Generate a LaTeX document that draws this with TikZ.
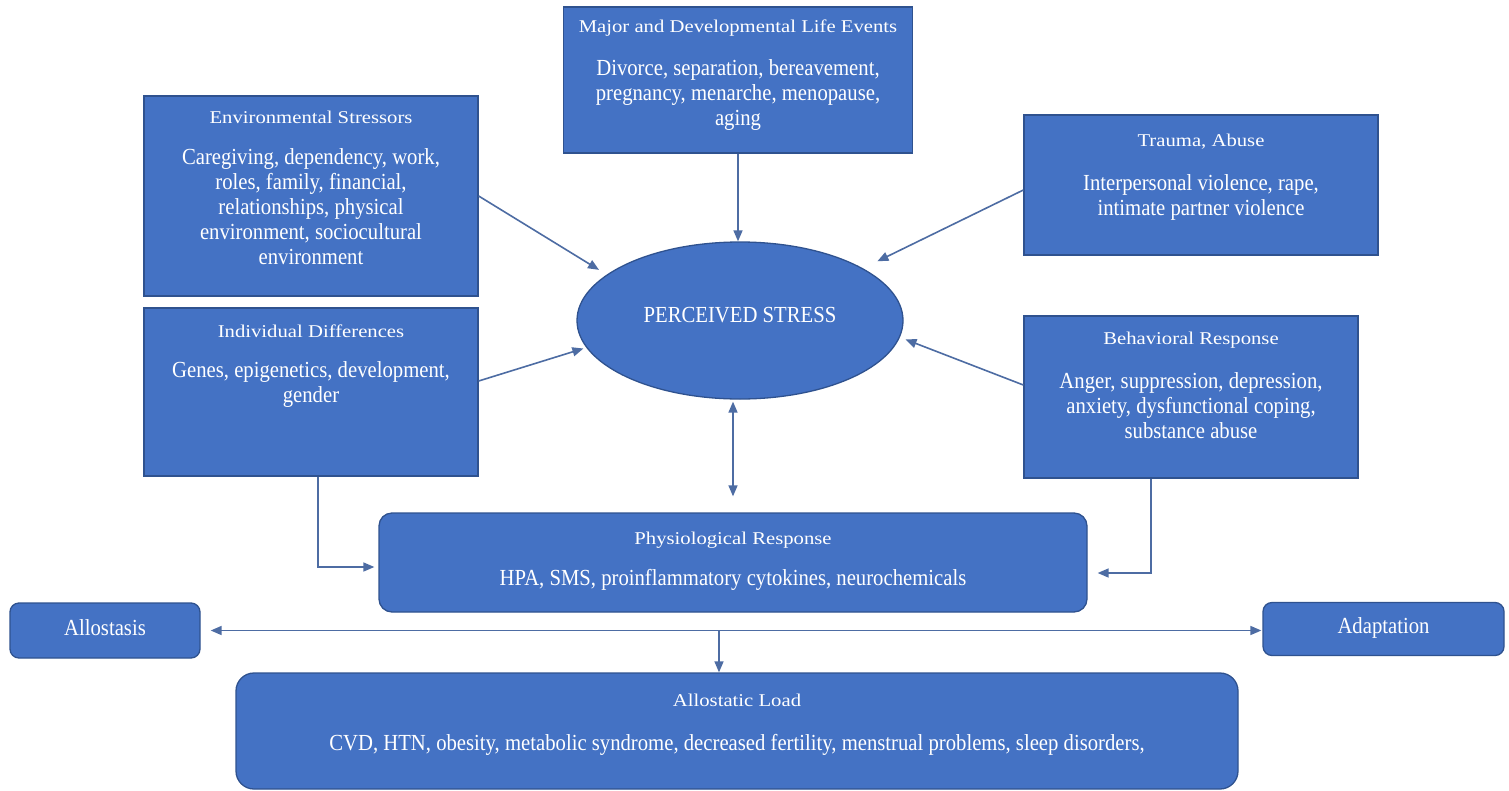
\documentclass[tikz,border=0pt]{standalone}
\usepackage{fontspec}
\setmainfont{Liberation Serif}
\newfontfamily\ttlfont[FakeStretch=1.15]{Liberation Serif}
\newfontfamily\bdyfont[FakeStretch=0.9]{Liberation Serif}
\usetikzlibrary{arrows.meta,shapes.geometric}
\definecolor{boxblue}{HTML}{4472C4}
\definecolor{boxedge}{HTML}{2F528F}
\definecolor{arrowc}{HTML}{4D6CA3}
\begin{document}
\begin{tikzpicture}[x=1pt,y=-1pt,
  sqbox/.style={draw=boxedge,fill=boxblue,line width=1.3pt,rectangle,inner sep=0pt},
  rdbox/.style={sqbox,rounded corners=13pt},
  ttl/.style={text=white,font=\ttlfont\fontsize{18}{22}\selectfont,inner sep=0pt,anchor=center},
  bdy/.style={text=white,font=\bdyfont\fontsize{23}{25}\selectfont,inner sep=0pt,align=center,anchor=north},
  conn/.style={draw=arrowc,line width=1.6pt,-{Triangle[length=11pt,width=9pt]}},
  dconn/.style={conn,{Triangle[length=11pt,width=9pt]}-{Triangle[length=11pt,width=9pt]}},
]
\fill[white] (0,0) rectangle (1509,790);
\useasboundingbox (0,0) rectangle (1509,790);

% boxes
\node[sqbox,minimum width=349pt,minimum height=146pt] (major) at (738,80) {};
\node[sqbox,minimum width=334pt,minimum height=200pt] (env) at (311,196) {};
\node[sqbox,minimum width=354pt,minimum height=140pt] (trauma) at (1201,185) {};
\node[sqbox,minimum width=334pt,minimum height=168pt] (indiv) at (311,392) {};
\node[sqbox,minimum width=334pt,minimum height=162pt] (behav) at (1191,397) {};
\node[ellipse,draw=boxedge,fill=boxblue,line width=1.3pt,minimum width=326pt,minimum height=157pt,inner sep=0pt] (ps) at (740,320.5) {};
\node[rdbox,minimum width=708pt,minimum height=99pt] (physio) at (733,562.5) {};
\node[rdbox,minimum width=190pt,minimum height=55pt,rounded corners=9pt] (allo) at (105,630.5) {};
\node[rdbox,minimum width=241pt,minimum height=53pt,rounded corners=9pt] (adapt) at (1383.5,629) {};
\node[rdbox,minimum width=1002pt,minimum height=116pt,rounded corners=18pt] (load) at (737,731) {};

% texts
\node[ttl] (majorT) at (738,28) {Major and Developmental Life Events};
\node[bdy] (majorB) at (738,59) {Divorce, separation, bereavement,\\pregnancy, menarche, menopause,\\aging};
\node[ttl] (envT) at (311,117) {Environmental Stressors};
\node[bdy] (envB) at (311,148) {Caregiving, dependency, work,\\roles, family, financial,\\relationships, physical\\environment, sociocultural\\environment};
\node[ttl] (traumaT) at (1201,142) {Trauma, Abuse};
\node[bdy] (traumaB) at (1201,174) {Interpersonal violence, rape,\\intimate partner violence};
\node[ttl] (indivT) at (311,331) {Individual Differences};
\node[bdy] (indivB) at (311,361) {Genes, epigenetics, development,\\gender};
\node[ttl] (behavT) at (1191,340) {Behavioral Response};
\node[bdy] (behavB) at (1191,372) {Anger, suppression, depression,\\anxiety, dysfunctional coping,\\substance abuse};
\node[bdy,anchor=center] (psT) at (740,315) {PERCEIVED STRESS};
\node[ttl] (physioT) at (733,540) {Physiological Response};
\node[bdy,anchor=center] (physioB) at (733,580) {HPA, SMS, proinflammatory cytokines, neurochemicals};
\node[bdy,anchor=center] (alloT) at (105,628) {Allostasis};
\node[bdy,anchor=center] (adaptT) at (1383.5,628) {Adaptation};
\node[ttl] (loadT) at (737,700) {Allostatic Load};
\node[bdy,anchor=center] (loadB) at (737,745) {CVD, HTN, obesity, metabolic syndrome, decreased fertility, menstrual problems, sleep disorders,};

% connectors
\draw[conn] (major.south) -- (major.south |- ps.north);
\draw[conn,shorten >=9pt] (env.east) -- (ps.161);
\draw[conn,shorten >=16pt] ([yshift=-5pt]trauma.west) -- (ps.23);
\draw[conn,shorten >=3pt] ([yshift=11pt]indiv.east) -- (ps.190);
\draw[conn,shorten >=6pt] ([yshift=12pt]behav.west) -- (ps.354);
\draw[dconn,shorten >=16pt,shorten <=2pt] (physio.north |- ps.south) -- (physio.north);
\draw[conn,shorten >=4pt] ([xshift=7pt]indiv.south) |- ([yshift=-4.5pt]physio.west);
\draw[conn,shorten >=10pt] ([xshift=-40pt]behav.south) |- ([yshift=-10.5pt]physio.east);
\draw[dconn,shorten <=10pt,shorten >=1pt] (allo.east) -- (allo.east -| adapt.west);
\coordinate (j) at (719,630.5);
\draw[conn] (j) -- (j |- load.north);
\end{tikzpicture}
\end{document}
